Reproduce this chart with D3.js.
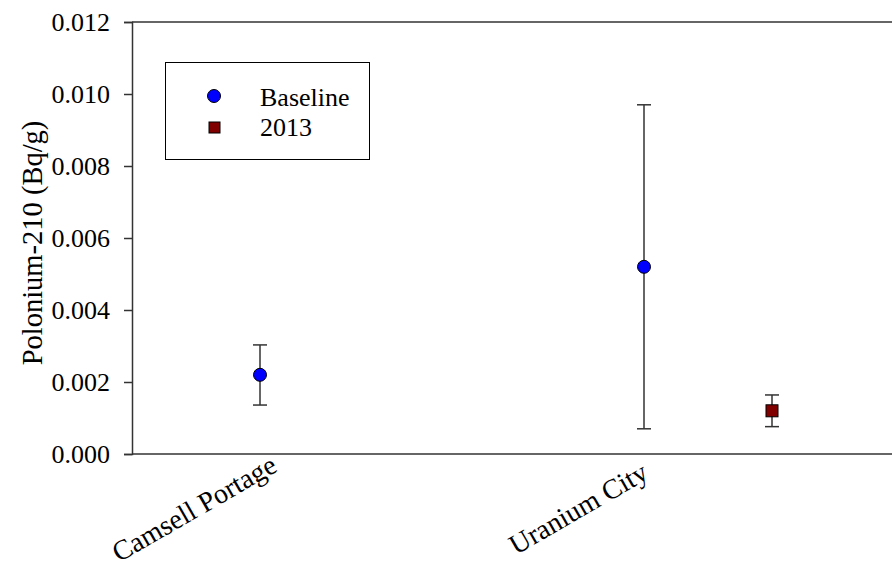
<!DOCTYPE html>
<html>
<head>
<meta charset="utf-8">
<script src="https://cdn.jsdelivr.net/npm/d3@7"></script>
<style>
  html, body { margin: 0; padding: 0; background: #fff; }
  svg { display: block; }
  text { font-family: "Liberation Serif", "Times New Roman", serif; fill: #000; }
</style>
</head>
<body>
<svg id="chart" width="892" height="566"></svg>
<script>
// Sites along the x axis and their slot positions
const sites = ["Camsell Portage", "Uranium City"];
const sitePos = [1, 4];

// Series: mean Po-210 with upper/lower error limits (Bq/g)
const baselineSite = ["Camsell Portage", "Uranium City"];
const baselineMean = [0.0022, 0.0052];
const baselineHigh = [0.00303, 0.0097];
const baselineLow  = [0.00136, 0.0007];

const y2013Site = ["Uranium City"];
const y2013Mean = [0.0012];
const y2013High = [0.00164];
const y2013Low  = [0.00076];

const yTicks = [0, 0.002, 0.004, 0.006, 0.008, 0.010, 0.012];

const svg = d3.select("#chart");
const plotLeft = 132, plotTop = 22, plotBottom = 454, plotRight = 900;
const serif = '"Liberation Serif", "Times New Roman", serif';

const x = d3.scaleLinear().domain([0, 6]).range([plotLeft, plotRight]);
const y = d3.scaleLinear().domain([0, 0.012]).range([plotBottom, plotTop]);
const posOf = name => sitePos[sites.indexOf(name)];

const axisColor = "#333";

// Frame: top line
svg.append("line")
  .attr("x1", plotLeft).attr("x2", 892)
  .attr("y1", y(0.012)).attr("y2", y(0.012))
  .attr("stroke", axisColor).attr("stroke-width", 1.5);

// Y axis
const yAxis = svg.append("g")
  .attr("transform", `translate(${plotLeft},0)`)
  .call(d3.axisLeft(y).tickValues(yTicks).tickSize(8).tickPadding(14)
    .tickFormat(d3.format(".3f")));
yAxis.attr("font-family", serif).attr("font-size", 26);
yAxis.select(".domain").attr("stroke", axisColor).attr("stroke-width", 1.5);
yAxis.selectAll(".tick line").attr("stroke", axisColor).attr("stroke-width", 1.5);
yAxis.selectAll(".tick text").attr("fill", "#000").attr("dy", "0.34em");

// X axis line
svg.append("line")
  .attr("x1", plotLeft).attr("x2", 892)
  .attr("y1", plotBottom).attr("y2", plotBottom)
  .attr("stroke", axisColor).attr("stroke-width", 1.5);

// Category labels, rotated about their centres below each site
svg.selectAll(".xlab").data(sites).enter().append("text")
  .attr("class", "xlab")
  .attr("transform", (d, i) => `translate(${x(sitePos[i]) - 66},${plotBottom + 54}) rotate(-30)`)
  .attr("text-anchor", "middle")
  .attr("dy", "0.35em")
  .style("font-size", "28px")
  .text(d => d);

// Y title
svg.append("text")
  .attr("transform", `translate(42,${(plotTop + plotBottom) / 2 + 5}) rotate(-90)`)
  .attr("text-anchor", "middle")
  .style("font-size", "28.5px")
  .text("Polonium-210 (Bq/g)");

// Error bars
function errorBars(names, hi, lo, dx) {
  const g = svg.append("g").attr("stroke", axisColor).attr("stroke-width", 1.5);
  names.forEach((n, i) => {
    const cx = x(posOf(n) + dx);
    g.append("line").attr("x1", cx).attr("x2", cx).attr("y1", y(hi[i])).attr("y2", y(lo[i]));
    [hi[i], lo[i]].forEach(v => {
      g.append("line").attr("x1", cx - 7).attr("x2", cx + 7).attr("y1", y(v)).attr("y2", y(v));
    });
  });
}
errorBars(baselineSite, baselineHigh, baselineLow, 0);
errorBars(y2013Site, y2013High, y2013Low, 1);

// Baseline markers
svg.selectAll(".base").data(baselineMean).enter().append("circle")
  .attr("class", "base")
  .attr("cx", (d, i) => x(posOf(baselineSite[i])))
  .attr("cy", d => y(d))
  .attr("r", 6.5)
  .attr("fill", "#0000ff").attr("stroke", "#000").attr("stroke-width", 1);

// 2013 markers
svg.selectAll(".y13").data(y2013Mean).enter().append("rect")
  .attr("class", "y13")
  .attr("x", (d, i) => x(posOf(y2013Site[i]) + 1) - 6)
  .attr("y", d => y(d) - 6)
  .attr("width", 12).attr("height", 12)
  .attr("fill", "#800000").attr("stroke", "#000").attr("stroke-width", 1);

// Legend
const lg = svg.append("g");
lg.append("rect").attr("x", 165.5).attr("y", 62.5).attr("width", 204).attr("height", 97)
  .attr("fill", "#fff").attr("stroke", "#000").attr("stroke-width", 1);
lg.append("circle").attr("cx", 214).attr("cy", 96).attr("r", 6.5)
  .attr("fill", "#0000ff").attr("stroke", "#000").attr("stroke-width", 1);
lg.append("rect").attr("x", 209).attr("y", 122).attr("width", 11).attr("height", 11)
  .attr("fill", "#800000").attr("stroke", "#000").attr("stroke-width", 1);
lg.append("text").attr("x", 260).attr("y", 106).style("font-size", "26px").text("Baseline");
lg.append("text").attr("x", 260).attr("y", 136).style("font-size", "26px").text("2013");
</script>
</body>
</html>
